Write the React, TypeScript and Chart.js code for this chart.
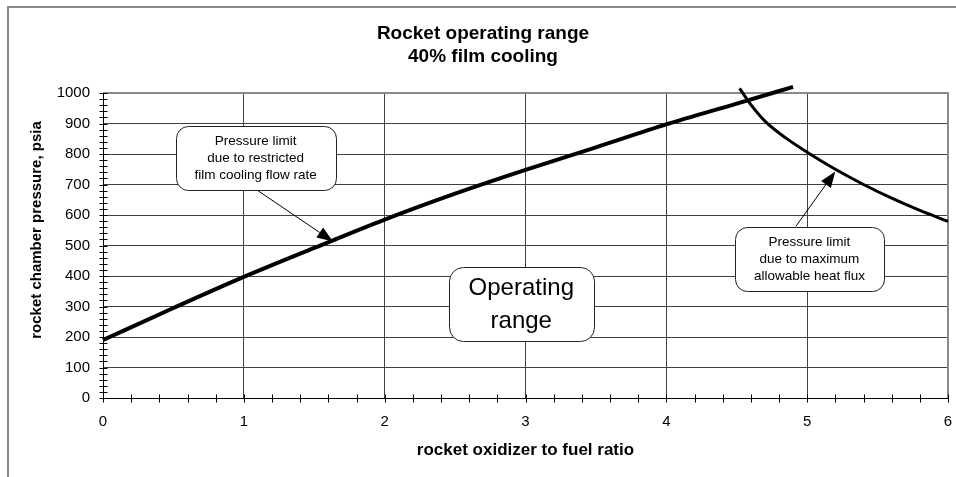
import React, { useEffect, useRef } from "react";
import { Chart, registerables } from "chart.js";

Chart.register(...registerables);

// ---------- data ----------
const chartTitle = ["Rocket operating range", "40% film cooling"];
const xAxisTitle = "rocket oxidizer to fuel ratio";
const yAxisTitle = "rocket chamber pressure, psia";

const xTickValues = [0, 1, 2, 3, 4, 5, 6];
const yTickValues = [0, 100, 200, 300, 400, 500, 600, 700, 800, 900, 1000];
const xMinorStep = 0.2;
const yMinorStep = 20;

// Pressure limit due to restricted film cooling flow rate
const filmLimitRatio = [0, 0.5, 1, 1.5, 2, 2.5, 3, 3.5, 4, 4.5, 4.9];
const filmLimitPressure = [190, 295, 397, 492, 585, 670, 748, 822, 897, 965, 1020];

// Pressure limit due to maximum allowable heat flux
const heatLimitRatio = [4.52, 4.6, 4.7, 4.85, 5.0, 5.2, 5.4, 5.6, 5.8, 6.0];
const heatLimitPressure = [1015, 962, 908, 852, 806, 750, 700, 655, 615, 579];

// Callout boxes (anchored in data units)
const calloutLines = [
  ["Pressure limit", "due to restricted", "film cooling flow rate"],
  ["Pressure limit", "due to maximum", "allowable heat flux"],
  ["Operating", "range"],
];
const calloutCenterX = [1.084, 5.016, 2.97];
const calloutCenterY = [788, 456, 307];

// Arrows (data units)
const arrowTailX = [1.09, 4.92];
const arrowTailY = [683, 563];
const arrowTipX = [1.633, 5.2];
const arrowTipY = [513, 743];

// ---------- helpers ----------
const FONT = '"Liberation Sans", Arial, Helvetica, sans-serif';

function roundRectPath(ctx: CanvasRenderingContext2D, x: number, y: number, w: number, h: number, r: number) {
  ctx.beginPath();
  ctx.moveTo(x + r, y);
  ctx.lineTo(x + w - r, y);
  ctx.arcTo(x + w, y, x + w, y + r, r);
  ctx.lineTo(x + w, y + h - r);
  ctx.arcTo(x + w, y + h, x + w - r, y + h, r);
  ctx.lineTo(x + r, y + h);
  ctx.arcTo(x, y + h, x, y + h - r, r);
  ctx.lineTo(x, y + r);
  ctx.arcTo(x, y, x + r, y, r);
  ctx.closePath();
}

const decorPlugin = {
  id: "decor",
  beforeDatasetsDraw(chart: any) {
    const { ctx, chartArea } = chart;
    const xs = chart.scales.x;
    const ys = chart.scales.y;
    const { left, right, top, bottom } = chartArea;
    ctx.save();
    // top and right plot border (gray)
    ctx.strokeStyle = "#8a8a8a";
    ctx.lineWidth = 2;
    ctx.beginPath();
    ctx.moveTo(left, top);
    ctx.lineTo(right, top);
    ctx.lineTo(right, bottom);
    ctx.stroke();
    // axes lines
    ctx.strokeStyle = "#000";
    ctx.lineWidth = 1;
    ctx.beginPath();
    ctx.moveTo(Math.round(left) + 0.5, top);
    ctx.lineTo(Math.round(left) + 0.5, Math.round(bottom) + 0.5);
    ctx.lineTo(right, Math.round(bottom) + 0.5);
    ctx.stroke();
    // crossing ticks on x axis
    ctx.beginPath();
    const by = Math.round(bottom) + 0.5;
    for (let v = xs.min; v <= xs.max + 1e-9; v += xMinorStep) {
      const px = Math.round(xs.getPixelForValue(v)) + 0.5;
      ctx.moveTo(px, by - 4);
      ctx.lineTo(px, by + 4);
    }
    // crossing ticks on y axis
    const lx = Math.round(left) + 0.5;
    for (let v = ys.min; v <= ys.max + 1e-9; v += yMinorStep) {
      const py = Math.round(ys.getPixelForValue(v)) + 0.5;
      ctx.moveTo(lx - 4, py);
      ctx.lineTo(lx + 4, py);
    }
    ctx.stroke();
    ctx.restore();
  },
  afterDatasetsDraw(chart: any) {
    const { ctx } = chart;
    const xs = chart.scales.x;
    const ys = chart.scales.y;
    ctx.save();
    // arrows
    for (let i = 0; i < arrowTipX.length; i++) {
      const x0 = xs.getPixelForValue(arrowTailX[i]);
      const y0 = ys.getPixelForValue(arrowTailY[i]);
      const x1 = xs.getPixelForValue(arrowTipX[i]);
      const y1 = ys.getPixelForValue(arrowTipY[i]);
      const ang = Math.atan2(y1 - y0, x1 - x0);
      const headLen = 16;
      const headHalf = 6;
      const bx = x1 - headLen * Math.cos(ang);
      const byy = y1 - headLen * Math.sin(ang);
      ctx.strokeStyle = "#000";
      ctx.lineWidth = 1;
      ctx.beginPath();
      ctx.moveTo(x0, y0);
      ctx.lineTo(bx, byy);
      ctx.stroke();
      ctx.fillStyle = "#000";
      ctx.beginPath();
      ctx.moveTo(x1, y1);
      ctx.lineTo(bx + headHalf * Math.sin(ang), byy - headHalf * Math.cos(ang));
      ctx.lineTo(bx - headHalf * Math.sin(ang), byy + headHalf * Math.cos(ang));
      ctx.closePath();
      ctx.fill();
    }
    // callout boxes
    for (let i = 0; i < calloutLines.length; i++) {
      const lines = calloutLines[i];
      const big = i === 2;
      const fontSize = big ? 24 : 13.5;
      const lineH = big ? 33 : 17;
      const padX = big ? 20 : 19;
      const padY = big ? 4 : 6.5;
      ctx.font = `${fontSize}px ${FONT}`;
      let maxW = 0;
      for (const l of lines) maxW = Math.max(maxW, ctx.measureText(l).width);
      const w = Math.round(maxW + padX * 2);
      const h = Math.round(lines.length * lineH + padY * 2);
      const cx = xs.getPixelForValue(calloutCenterX[i]);
      const cy = ys.getPixelForValue(calloutCenterY[i]);
      const bx = Math.round(cx - w / 2) + 0.5;
      const byy = Math.round(cy - h / 2) + 0.5;
      roundRectPath(ctx, bx, byy, w, h, big ? 14 : 12);
      ctx.fillStyle = "#fff";
      ctx.fill();
      ctx.strokeStyle = "#222";
      ctx.lineWidth = 1;
      ctx.stroke();
      ctx.fillStyle = "#000";
      ctx.textAlign = "center";
      ctx.textBaseline = "middle";
      lines.forEach((l, k) => {
        ctx.fillText(l, cx, byy + padY + lineH * (k + 0.5));
      });
    }
    ctx.restore();
  },
  afterDraw(chart: any) {
    const { ctx, width, height } = chart;
    ctx.save();
    // outer frame
    ctx.strokeStyle = "#8a8a8a";
    ctx.lineWidth = 2;
    ctx.beginPath();
    ctx.moveTo(8, height + 2);
    ctx.lineTo(8, 7);
    ctx.lineTo(width + 2, 7);
    ctx.stroke();
    // chart title
    ctx.fillStyle = "#000";
    ctx.textAlign = "center";
    ctx.textBaseline = "middle";
    ctx.font = `bold 19px ${FONT}`;
    ctx.fillText(chartTitle[0], 483, 34);
    ctx.fillText(chartTitle[1], 483, 57);
    // y axis title
    ctx.font = `bold 15px ${FONT}`;
    ctx.translate(37, 230);
    ctx.rotate(-Math.PI / 2);
    ctx.fillText(yAxisTitle, 0, 0);
    ctx.restore();
  },
};

export default function App() {
  const canvasRef = useRef<HTMLCanvasElement | null>(null);

  useEffect(() => {
    document.body.style.margin = "0";
    const canvas = canvasRef.current;
    if (!canvas) return;
    const chart = new Chart(canvas, {
      type: "line",
      data: {
        datasets: [
          {
            label: "film cooling limit",
            data: filmLimitRatio.map((x, i) => ({ x, y: filmLimitPressure[i] })),
            borderColor: "#000",
            borderWidth: 4,
            pointRadius: 0,
            cubicInterpolationMode: "monotone",
            borderJoinStyle: "round",
            clip: false as any,
            fill: false,
          },
          {
            label: "heat flux limit",
            data: heatLimitRatio.map((x, i) => ({ x, y: heatLimitPressure[i] })),
            borderColor: "#000",
            borderWidth: 3,
            pointRadius: 0,
            cubicInterpolationMode: "monotone",
            borderJoinStyle: "round",
            clip: false as any,
            fill: false,
          },
        ],
      },
      options: {
        responsive: false,
        animation: false,
        layout: { padding: { left: 0, top: 93, right: 8, bottom: 0 } },
        plugins: {
          legend: { display: false },
          title: { display: false },
          tooltip: { enabled: false },
        },
        scales: {
          x: {
            type: "linear",
            min: 0,
            max: 6,
            afterBuildTicks: (scale: any) => {
              scale.ticks = xTickValues.map((v) => ({ value: v }));
            },
            afterFit: (scale: any) => {
              scale.height = 79;
              scale.paddingLeft = 0;
              scale.paddingRight = 0;
            },
            ticks: {
              color: "#000",
              font: { family: FONT, size: 15 },
              padding: 15,
              maxRotation: 0,
              callback: (v: any) => String(v),
            },
            grid: { color: "#404040", lineWidth: 1, drawTicks: false },
            border: { display: false },
            title: {
              display: true,
              text: xAxisTitle,
              color: "#000",
              font: { family: FONT, size: 17, weight: "bold" },
              padding: { top: 0, bottom: 16 },
            },
          },
          y: {
            type: "linear",
            min: 0,
            max: 1000,
            afterBuildTicks: (scale: any) => {
              scale.ticks = yTickValues.map((v) => ({ value: v }));
            },
            afterFit: (scale: any) => {
              scale.width = 103;
              scale.paddingTop = 0;
              scale.paddingBottom = 0;
            },
            ticks: {
              color: "#000",
              font: { family: FONT, size: 15 },
              padding: 13,
              callback: (v: any) => String(v),
            },
            grid: { color: "#404040", lineWidth: 1, drawTicks: false },
            border: { display: false },
          },
        },
      },
      plugins: [decorPlugin],
    } as any);
    return () => chart.destroy();
  }, []);

  return (
    <div style={{ position: "relative", width: 956, height: 477, background: "#fff" }}>
      <canvas ref={canvasRef} width={956} height={477} style={{ display: "block" }} />
    </div>
  );
}
